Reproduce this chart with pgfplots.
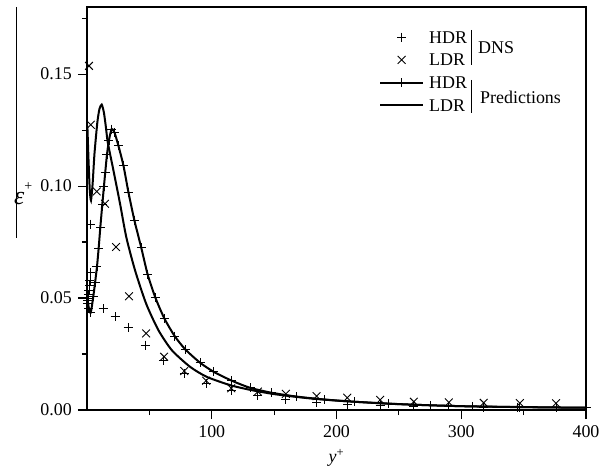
\documentclass[border=0pt]{standalone}
\usepackage{fontspec}
\setmainfont{Liberation Serif}
\usepackage{pgfplots}
\pgfplotsset{compat=1.18}
\begin{document}
\fontsize{18}{21}\selectfont
\begin{tikzpicture}
\useasboundingbox (0,0) rectangle (608bp,472bp);
\begin{axis}[
  at={(87bp,62bp)}, anchor=south west,
  scale only axis, width=499bp, height=403bp,
  clip mode=individual,
  xmin=0, xmax=400, ymin=0, ymax=0.18,
  xtick={100,200,300,400},
  minor xtick={50,150,250,350},
  ytick={0,0.05,0.10,0.15},
  minor ytick={0.025,0.075,0.125,0.175},
  yticklabel style={/pgf/number format/fixed, /pgf/number format/fixed zerofill, /pgf/number format/precision=2},
  /pgf/number format/assume math mode=true,
  tick pos=left, tick align=outside,
  major tick length=9bp, minor tick length=5bp,
  every tick/.style={line width=1.2bp, black},
  axis line style={line width=1.4bp},
  tick label style={font=\fontsize{18}{21}\selectfont},
  xlabel={\textit{y}\textsuperscript{+}},
  xlabel style={at={(axis description cs:0.5,0)}, anchor=center, yshift=-48bp},
  legend image code/.code={\draw[#1, mark repeat=2, mark phase=2] plot coordinates {(0bp,0bp) (21.5bp,0bp) (43bp,0bp)};},
  legend style={at={(axis description cs:0.585,0.9405)}, anchor=north west, draw=none, fill=none, inner sep=0pt,
     row sep=10.7bp, column sep=5bp, font=\fontsize{18}{21}\selectfont,
     nodes={inner sep=0pt, text height=12bp, text depth=0bp}},
  legend cell align=left,
]
% DNS HDR
\addplot[only marks, mark=+, mark size=4.5bp, mark options={line width=0.9bp}] coordinates {
(0.4,0.0475) (0.8,0.0490) (1.2,0.0515) (1.6,0.0535) (2.0,0.0555) (2.4,0.0580) (2.8,0.0615) (3.1,0.0830)
(13,0.0453) (22.5,0.0417) (33,0.0368) (46.5,0.0290) (61.2,0.0220) (78,0.0163) (95.5,0.0119)
(115.6,0.0086) (137,0.0064) (159,0.0045) (184,0.0032) (209,0.0025) (235,0.0020) (262,0.0017)
(290,0.0014) (318,0.0012) (347,0.0011) (376,0.0010)
};
\addlegendentry{HDR}
% DNS LDR
\addplot[only marks, mark=x, mark size=5.5bp, mark options={line width=0.9bp}] coordinates {
(1.6,0.1537) (3,0.1274) (7.8,0.0976) (14.4,0.0921) (23.3,0.0728) (33.7,0.0508) (47.4,0.0342)
(61.8,0.0238) (77.9,0.0174) (95.5,0.0131) (115.6,0.0097) (137,0.0082) (159.4,0.0072) (184,0.0062)
(208.6,0.0055) (235,0.0045) (262,0.0037) (290,0.0034) (318,0.0032) (347,0.0031) (376,0.0030)
};
\addlegendentry{LDR}
% Predictions HDR
\addplot[line width=2bp, smooth, tension=0.4, mark=+, mark size=4.5bp, mark options={line width=0.9bp, solid}] coordinates {
(0.3,0.0500) (1.5,0.0455) (3.0,0.0435) (5.0,0.0505) (6.5,0.0570) (8.0,0.0640) (9.3,0.0720)
(10.7,0.0817) (12.3,0.0920) (13.6,0.1000) (14.6,0.1060) (16,0.1140) (17.6,0.1205) (19.8,0.1255)
(22,0.1240) (25.2,0.1180) (29.2,0.1092) (33.2,0.0973) (38,0.0847) (43.5,0.0725) (48.6,0.0606)
(54.8,0.0502) (62,0.0409) (70.3,0.0330) (78.9,0.0270) (90.7,0.0211) (101.4,0.0171) (116,0.0131)
(130.8,0.0099) (148,0.0077) (168,0.0060) (190,0.0047) (214,0.0037) (242,0.0028) (275,0.0021)
(309,0.0016) (345,0.0013) (400,0.0010)
};
\addlegendentry{HDR}
% Predictions LDR
\addplot[line width=2bp, smooth, tension=0.4] coordinates {
(0.3,0.1270) (1.2,0.1120) (2.2,0.0985) (3.2,0.0936) (4.5,0.1010) (6,0.1145) (8.3,0.1285)
(10,0.1345) (11.8,0.1364) (13.5,0.1330) (15,0.1270) (16.5,0.1200) (18.8,0.1135) (21.2,0.1070)
(26.5,0.0921) (31.5,0.0772) (38.5,0.0624) (47.4,0.0475) (57.2,0.0357) (68,0.0267) (82.6,0.0193)
(96,0.0148) (114.8,0.0111) (130.8,0.0090) (150,0.0071) (175,0.0054) (200,0.0042) (230,0.0032)
(260,0.0024) (300,0.0017) (350,0.0013) (400,0.0010)
};
\addlegendentry{LDR}
% group brackets of the legend
\draw[line width=0.8bp] (axis description cs:0.7695,0.943) -- (axis description cs:0.7695,0.856);
\draw[line width=0.8bp] (axis description cs:0.7695,0.819) -- (axis description cs:0.7695,0.737);
\node[anchor=west, inner sep=0pt] at (axis description cs:0.7836,0.898) {DNS};
\node[anchor=west, inner sep=0pt] at (axis description cs:0.7876,0.7767) {Predictions};
% y label
\node[inner sep=0pt, font=\fontsize{26}{30}\selectfont] at (axis description cs:-0.128,0.536) {\textit{ε}\raisebox{1.2ex}{\fontsize{14}{16}\selectfont +}};
\draw[line width=0.9bp] (axis description cs:-0.142,1.0) -- (axis description cs:-0.142,0.427);
\end{axis}
\end{tikzpicture}
\end{document}
